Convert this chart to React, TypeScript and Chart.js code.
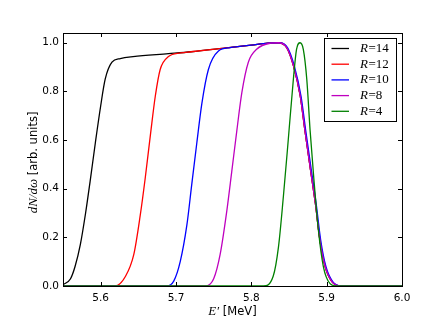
import React, { useEffect, useRef } from "react";
import { Chart, registerables } from "chart.js";

Chart.register(...registerables);

const labels = ["R=14", "R=12", "R=10", "R=8", "R=4"];
const colors = ["#000000", "#ff0000", "#0000ff", "#bf00bf", "#008000"];

const E14 = [5.55, 5.56, 5.566, 5.573, 5.58, 5.586, 5.593, 5.6, 5.606, 5.615, 5.626, 5.643, 5.69, 5.72, 5.77, 5.8, 5.822, 5.836, 5.847, 5.856, 5.865, 5.871, 5.878, 5.885, 5.891, 5.898, 5.907, 5.918, 6.0];
const N14 = [0.005, 0.03, 0.08, 0.17, 0.3, 0.43, 0.59, 0.74, 0.85, 0.92, 0.935, 0.943, 0.955, 0.963, 0.98, 0.99, 0.998, 1.0, 0.98, 0.905, 0.78, 0.643, 0.49, 0.34, 0.19, 0.08, 0.018, 0, 0];

const E12 = [5.55, 5.619, 5.633, 5.644, 5.6525, 5.659, 5.666, 5.6725, 5.679, 5.69, 5.706, 5.72, 5.77, 5.8, 5.822, 5.836, 5.847, 5.856, 5.865, 5.871, 5.878, 5.885, 5.891, 5.898, 5.907, 5.918, 6.0];
const N12 = [0, 0, 0.04, 0.13, 0.29, 0.44, 0.62, 0.78, 0.89, 0.943, 0.958, 0.963, 0.98, 0.99, 0.998, 1.0, 0.98, 0.905, 0.78, 0.643, 0.49, 0.34, 0.19, 0.08, 0.018, 0, 0];

const E10 = [5.55, 5.688, 5.697, 5.7056, 5.7144, 5.721, 5.7277, 5.7343, 5.743, 5.7564, 5.772, 5.8, 5.822, 5.837, 5.848, 5.857, 5.866, 5.872, 5.879, 5.886, 5.892, 5.899, 5.908, 5.919, 6.0];
const N10 = [0, 0, 0.02, 0.1, 0.25, 0.42, 0.59, 0.75, 0.89, 0.966, 0.98, 0.99, 0.998, 1.0, 0.98, 0.905, 0.78, 0.643, 0.49, 0.34, 0.19, 0.08, 0.018, 0, 0];

const E8 = [5.55, 5.7387, 5.75, 5.7586, 5.7675, 5.774, 5.7808, 5.7874, 5.796, 5.807, 5.825, 5.836, 5.847, 5.856, 5.865, 5.871, 5.878, 5.885, 5.891, 5.898, 5.907, 5.918, 6.0];
const N8 = [0, 0, 0.03, 0.13, 0.31, 0.47, 0.64, 0.795, 0.92, 0.973, 0.998, 1.0, 0.98, 0.905, 0.78, 0.643, 0.49, 0.34, 0.19, 0.08, 0.018, 0, 0];

const E4 = [5.55, 5.816, 5.829, 5.836, 5.8426, 5.849, 5.8558, 5.86, 5.8647, 5.869, 5.8736, 5.878, 5.883, 5.889, 5.8956, 5.9045, 5.9134, 6.0];
const N4 = [0, 0, 0.04, 0.16, 0.37, 0.6, 0.85, 0.973, 1.0, 0.973, 0.85, 0.64, 0.44, 0.23, 0.08, 0.01, 0, 0];

const xTicks = [5.6, 5.7, 5.8, 5.9, 6.0];
const yTicks = [0.0, 0.2, 0.4, 0.6, 0.8, 1.0];

const series = [
  [E14, N14],
  [E12, N12],
  [E10, N10],
  [E8, N8],
  [E4, N4],
];

const MATH = "'Liberation Serif', 'DejaVu Serif', serif";
const SANS = "'DejaVu Sans', sans-serif";

const decorPlugin = {
  id: "decor",
  afterDraw(chart: any) {
    const ctx = chart.ctx;
    const a = chart.chartArea;
    const xs = chart.scales.x;
    const ys = chart.scales.y;
    ctx.save();
    ctx.strokeStyle = "#000";
    ctx.lineWidth = 1;
    ctx.strokeRect(Math.round(a.left) + 0.5, Math.round(a.top) + 0.5, Math.round(a.right - a.left), Math.round(a.bottom - a.top));
    const tl = 4;
    ctx.beginPath();
    for (const v of xTicks) {
      const px = Math.round(xs.getPixelForValue(v)) + 0.5;
      ctx.moveTo(px, a.bottom);
      ctx.lineTo(px, a.bottom - tl);
      ctx.moveTo(px, a.top);
      ctx.lineTo(px, a.top + tl);
    }
    for (const v of yTicks) {
      const py = Math.round(ys.getPixelForValue(v)) + 0.5;
      ctx.moveTo(a.left, py);
      ctx.lineTo(a.left + tl, py);
      ctx.moveTo(a.right, py);
      ctx.lineTo(a.right - tl, py);
    }
    ctx.stroke();

    // legend
    const bx = 324.5, by = 38.5, bw = 72, bh = 83;
    ctx.fillStyle = "#fff";
    ctx.fillRect(bx, by, bw, bh);
    ctx.strokeStyle = "#000";
    ctx.strokeRect(bx, by, bw, bh);
    labels.forEach((lab, i) => {
      const y = 48.5 + i * 15.7;
      ctx.strokeStyle = colors[i];
      ctx.lineWidth = 1.3;
      ctx.beginPath();
      ctx.moveTo(331.5, y);
      ctx.lineTo(349, y);
      ctx.stroke();
      ctx.fillStyle = "#000";
      ctx.textBaseline = "middle";
      ctx.textAlign = "left";
      ctx.font = "italic 13px " + MATH;
      ctx.fillText("R", 360, y);
      const w = ctx.measureText("R").width;
      ctx.font = "13px " + MATH;
      ctx.fillText(lab.slice(1), 360 + w + 0.5, y);
    });

    // x title
    ctx.fillStyle = "#000";
    ctx.textBaseline = "middle";
    ctx.textAlign = "left";
    const xMath = "E\u2032";
    const xRest = " [MeV]";
    ctx.font = "italic 13px " + MATH;
    const w1 = ctx.measureText(xMath).width;
    ctx.font = "11.5px " + SANS;
    const w2 = ctx.measureText(xRest).width;
    const cx = (a.left + a.right) / 2;
    let sx = cx - (w1 + w2) / 2;
    ctx.font = "italic 13px " + MATH;
    ctx.fillText(xMath, sx, 312);
    ctx.font = "11.5px " + SANS;
    ctx.fillText(xRest, sx + w1, 312);

    // y title
    ctx.translate(34, (a.top + a.bottom) / 2 + 3);
    ctx.rotate(-Math.PI / 2);
    const yMath = "dN/d\u03c9";
    const yRest = " [arb. units]";
    ctx.font = "italic 13px " + MATH;
    const w3 = ctx.measureText(yMath).width;
    ctx.font = "11.5px " + SANS;
    const w4 = ctx.measureText(yRest).width;
    sx = -(w3 + w4) / 2;
    ctx.font = "italic 13px " + MATH;
    ctx.fillText(yMath, sx, 0);
    ctx.font = "11.5px " + SANS;
    ctx.fillText(yRest, sx + w3, 0);
    ctx.restore();
  },
};

export default function App() {
  const ref = useRef<HTMLCanvasElement | null>(null);
  useEffect(() => {
    if (!ref.current) return;
    const chart = new Chart(ref.current, {
      type: "line",
      data: {
        datasets: series.map(([ex, ny], i) => ({
          label: labels[i],
          data: ex.map((x, j) => ({ x, y: ny[j] })),
          borderColor: colors[i],
          backgroundColor: colors[i],
          borderWidth: 1.3,
          pointRadius: 0,
          fill: false,
          cubicInterpolationMode: "monotone" as const,
          order: 5 - i,
        })),
      },
      options: {
        animation: false,
        responsive: false,
        devicePixelRatio: 1,
        layout: { padding: { top: 33, right: 44, left: 0, bottom: 0 } },
        plugins: { legend: { display: false }, tooltip: { enabled: false } },
        scales: {
          x: {
            type: "linear",
            min: 5.55,
            max: 6.0,
            grid: { display: false, drawTicks: false },
            border: { display: false },
            ticks: {
              includeBounds: false,
              stepSize: 0.1,
              padding: 6,
              color: "#000",
              maxRotation: 0,
              font: { family: SANS, size: 10.5 },
              callback: (v: any) => Number(v).toFixed(1),
            },
            afterFit: (s: any) => {
              s.height = 48;
            },
          },
          y: {
            type: "linear",
            min: 0,
            max: 1.04,
            grid: { display: false, drawTicks: false },
            border: { display: false },
            ticks: {
              includeBounds: false,
              stepSize: 0.2,
              padding: 4,
              color: "#000",
              font: { family: SANS, size: 10.5 },
              callback: (v: any) => Number(v).toFixed(1),
            },
            afterFit: (s: any) => {
              s.width = 63;
            },
          },
        },
      },
      plugins: [decorPlugin],
    });
    return () => chart.destroy();
  }, []);
  return (
    <div style={{ position: "fixed", left: 0, top: 0, width: 446, height: 334, background: "#fff" }}>
      <canvas ref={ref} width={446} height={334} style={{ width: 446, height: 334 }} />
    </div>
  );
}
